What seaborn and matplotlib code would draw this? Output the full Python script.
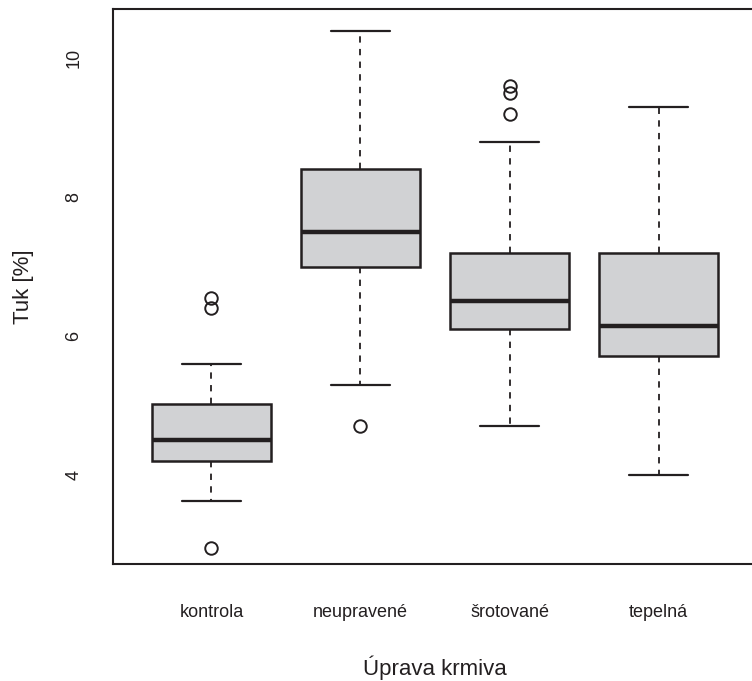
import numpy as np
import pandas as pd
import matplotlib
matplotlib.use("Agg")
import matplotlib.pyplot as plt
import seaborn as sns

# groups on the x axis
categories = ["kontrola", "neupravené", "šrotované", "tepelná"]

# fat content [%] per group
kontrola = [2.95, 3.62, 3.9, 4.1, 4.2, 4.3, 4.35, 4.45, 4.5, 4.6, 4.75, 4.9,
            5.02, 5.3, 5.6, 6.4, 6.55]
neupravene = [4.7, 5.3, 6.2, 6.8, 7.0, 7.1, 7.25, 7.4, 7.5, 7.7, 7.9, 8.2,
              8.4, 8.9, 9.4, 9.9, 10.4]
srotovane = [4.7, 5.2, 5.5, 5.8, 6.0, 6.1, 6.2, 6.3, 6.35, 6.45, 6.5, 6.6,
             6.8, 6.95, 7.05, 7.2, 7.8, 8.8, 9.2, 9.5, 9.6]
tepelna = [4.0, 4.6, 5.1, 5.5, 5.72, 5.85, 5.95, 6.05, 6.15, 6.4, 6.7, 6.95,
           7.2, 7.7, 8.2, 8.8, 9.3]

yticks = [4, 6, 8, 10]

df = pd.concat([
    pd.DataFrame({"uprava": name, "tuk": vals})
    for name, vals in zip(categories, [kontrola, neupravene, srotovane, tepelna])
], ignore_index=True)

sns.set_style("white")
plt.rcParams['font.family'] = ['Liberation Sans', 'DejaVu Sans']

ink = "#231f20"
W, H = 752, 681
fig = plt.figure(figsize=(W / 100, H / 100), dpi=100)
ax = fig.add_axes([113 / W, 1 - 564 / H, 644 / W, 555 / H])

sns.boxplot(data=df, x="uprava", y="tuk", order=categories, ax=ax,
            color="#d1d2d4", saturation=1, width=0.8, linecolor=ink,
            linewidth=1.6, fliersize=9,
            boxprops={"edgecolor": ink, "linewidth": 1.8},
            medianprops={"color": ink, "linewidth": 3.2},
            whiskerprops={"color": ink, "linewidth": 1.3, "linestyle": (0, (3.5, 3.5))},
            capprops={"color": ink, "linewidth": 1.6},
            flierprops={"marker": "o", "markerfacecolor": "none",
                        "markeredgecolor": ink, "markeredgewidth": 1.4})

ax.set_xlim(-0.66, 3.66)
ax.set_ylim(2.72, 10.71)
ax.set_yticks(yticks)
ax.set_yticklabels([str(t) for t in yticks], rotation=90, va="center")

for s in ax.spines.values():
    s.set_visible(True)
    s.set_color(ink)
    s.set_linewidth(1.5)

ax.tick_params(axis="both", direction="out", length=10, width=1.5, color=ink,
               labelcolor=ink, labelsize=13)
ax.tick_params(axis="x", pad=19)
ax.tick_params(axis="y", pad=12)

ax.set_xlabel("Úprava krmiva", fontsize=16, color=ink)
ax.set_ylabel("Tuk [%]", fontsize=16, color=ink)
ax.xaxis.set_label_coords(0.5, -0.165)
ax.yaxis.set_label_coords(-0.122, 0.5)

fig.savefig("out.png", dpi=100)
